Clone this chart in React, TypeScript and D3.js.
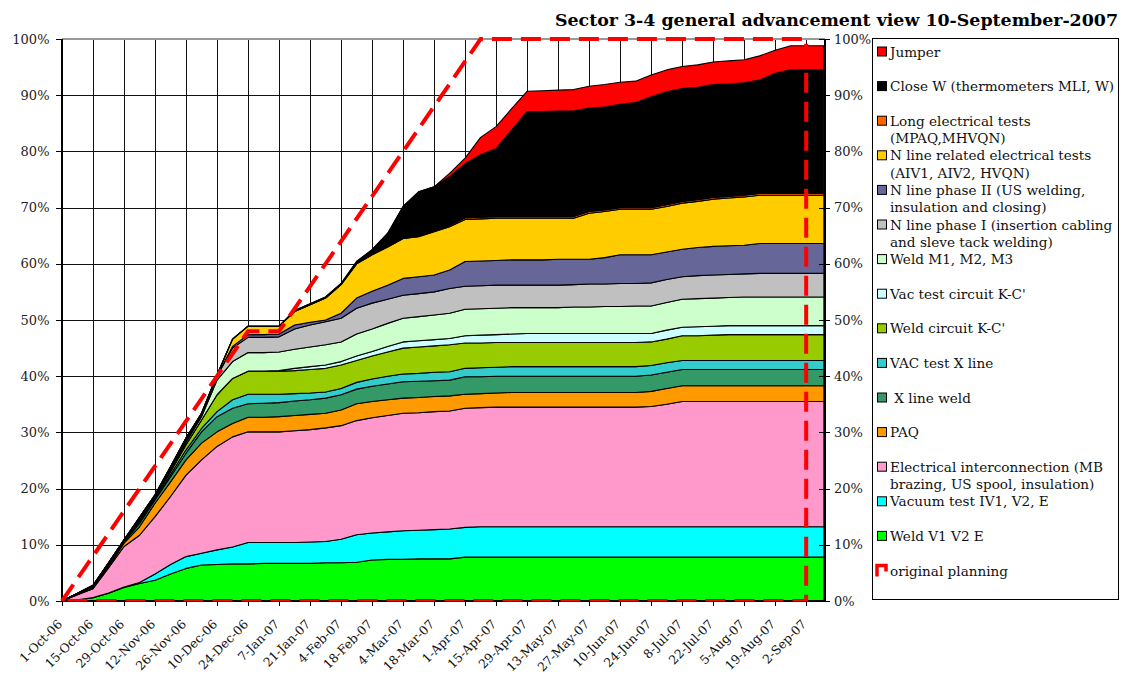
import React from "react";
import * as d3 from "d3";

// Weekly reporting dates (last point = report date)
const dates = [
  "2006-10-01","2006-10-08","2006-10-15","2006-10-22","2006-10-29","2006-11-05","2006-11-12","2006-11-19","2006-11-26","2006-12-03",
  "2006-12-10","2006-12-17","2006-12-24","2006-12-31","2007-01-07","2007-01-14","2007-01-21","2007-01-28","2007-02-04","2007-02-11",
  "2007-02-18","2007-02-25","2007-03-04","2007-03-11","2007-03-18","2007-03-25","2007-04-01","2007-04-08","2007-04-15","2007-04-22",
  "2007-04-29","2007-05-06","2007-05-13","2007-05-20","2007-05-27","2007-06-03","2007-06-10","2007-06-17","2007-06-24","2007-07-01",
  "2007-07-08","2007-07-15","2007-07-22","2007-07-29","2007-08-05","2007-08-12","2007-08-19","2007-08-26","2007-09-02","2007-09-10",
];

// Series values (% of total work), bottom to top of the stack
const weldV1V2E = [0,0.2,0.6,1.4,2.4,3.1,3.7,4.8,5.8,6.4, 6.5,6.6,6.6,6.7,6.7,6.7,6.7,6.8,6.8,6.9, 7.3,7.4,7.4,7.5,7.5,7.5,7.8,7.8,7.8,7.8, 7.8,7.8,7.8,7.8,7.8,7.8,7.8,7.8,7.8,7.8, 7.8,7.8,7.8,7.8,7.8,7.8,7.8,7.8,7.8,7.8];
const vacuumTest = [0,0,0,0,0.1,0.2,1.1,1.7,2.1,2.1, 2.6,3.0,3.8,3.7,3.7,3.7,3.8,3.8,4.2,4.9, 4.8,4.9,5.1,5.1,5.2,5.3,5.3,5.4,5.4,5.4, 5.4,5.4,5.4,5.4,5.4,5.4,5.4,5.4,5.4,5.4, 5.4,5.4,5.4,5.4,5.4,5.4,5.4,5.4,5.4,5.4];
const electricalInterconnection = [0,0.9,1.6,4.5,7.2,8.4,10.2,12.1,14.5,16.6, 18.4,19.6,19.7,19.7,19.7,19.9,20.0,20.2,20.2,20.3, 20.5,20.7,20.9,20.9,21.0,21.0,21.2,21.2,21.3,21.3, 21.3,21.3,21.3,21.3,21.3,21.3,21.3,21.3,21.4,21.8, 22.3,22.3,22.3,22.3,22.3,22.3,22.3,22.3,22.3,22.3];
const paq = [0,0.05,0.1,0.2,0.6,1.5,2.4,2.6,2.7,3.0, 2.6,2.4,2.6,2.6,2.7,2.7,2.7,2.6,2.8,3.0, 2.9,2.8,2.7,2.7,2.7,2.7,2.5,2.5,2.5,2.6, 2.6,2.6,2.6,2.6,2.6,2.6,2.6,2.6,2.7,2.8, 2.8,2.8,2.8,2.8,2.8,2.8,2.8,2.8,2.8,2.8];
const xLineWeld = [0,0.05,0.1,0.2,0.2,0.6,0.6,0.9,1.2,2.0, 2.7,2.7,2.4,2.5,2.5,2.6,2.6,2.7,2.7,2.6, 2.7,2.8,2.9,2.9,2.8,2.8,3.1,3.0,3.0,2.9, 2.9,2.9,2.9,2.9,2.9,2.9,2.9,2.9,2.9,2.9, 2.9,2.9,2.9,2.9,2.9,2.9,2.9,2.9,2.9,2.9];
const vacTestXLine = [0,0.02,0.05,0.1,0.1,0.2,0.2,0.4,0.6,0.6, 0.9,1.5,1.7,1.6,1.5,1.3,1.2,1.1,1.1,1.2, 1.3,1.4,1.4,1.4,1.5,1.5,1.5,1.6,1.6,1.7, 1.7,1.7,1.7,1.7,1.7,1.7,1.7,1.7,1.7,1.7, 1.6,1.6,1.6,1.6,1.6,1.6,1.6,1.6,1.6,1.6];
const weldCircuitKC = [0,0.05,0.1,0.1,0.1,0.3,0.3,0.5,0.9,1.5, 3.0,3.8,4.1,4.1,4.1,4.1,4.2,4.2,4.2,3.9, 4.1,4.3,4.6,4.7,4.7,4.8,4.5,4.4,4.4,4.3, 4.3,4.3,4.3,4.3,4.3,4.3,4.3,4.3,4.2,4.2, 4.4,4.4,4.5,4.6,4.6,4.6,4.6,4.6,4.6,4.6];
const vacTestCircuitKC = [0,0,0,0,0,0,0,0,0,0, 0,0,0,0,0.1,0.4,0.5,0.6,0.6,0.8, 0.8,1.0,1.1,1.1,1.1,1.1,1.3,1.4,1.4,1.5, 1.6,1.6,1.6,1.6,1.6,1.6,1.6,1.6,1.5,1.6, 1.5,1.6,1.6,1.6,1.6,1.6,1.6,1.6,1.6,1.6];
const weldM1M2M3 = [0,0.03,0.05,0.1,0.1,0.2,0.1,0.3,0.4,0.6, 2.6,3.0,3.3,3.3,3.3,3.4,3.5,3.6,3.5,3.9, 4.0,4.1,4.2,4.3,4.4,4.5,4.7,4.7,4.7,4.7, 4.6,4.6,4.6,4.7,4.7,4.8,4.8,4.9,4.9,4.9, 5.0,5.0,5.0,5.0,5.1,5.1,5.1,5.1,5.1,5.1];
const nLinePhaseI = [0,0.05,0.1,0.1,0.05,0.2,0.2,0.3,0.4,0.3, 0.7,2.4,2.7,2.7,2.7,3.6,3.9,4.1,4.2,4.6, 4.6,4.3,4.1,4.1,4.1,4.4,4.1,4.1,4.1,4.0, 4.0,4.0,4.0,4.0,4.1,4.0,4.1,4.0,4.1,4.1, 4.0,4.1,4.1,4.1,4.1,4.2,4.2,4.2,4.2,4.2];
const nLinePhaseII = [0,0,0,0,0,0,0,0,0.1,0.1, 0.1,0.3,0.5,0.5,0.5,0.7,0.5,0.3,0.9,1.8, 2.1,2.5,3.0,3.0,3.0,3.3,4.4,4.4,4.4,4.5, 4.5,4.5,4.6,4.5,4.4,4.7,5.1,5.1,5.0,4.9, 4.9,5.0,5.1,5.1,5.1,5.3,5.3,5.3,5.3,5.3];
const nLineElecTests = [0,0.05,0.1,0.1,0.05,0.2,0.1,0.3,0.3,0.2, 0.1,1.3,1.5,1.5,1.4,2.4,3.1,3.9,5.1,6.1, 6.5,6.8,7.1,7.1,7.7,7.7,7.5,7.5,7.5,7.4, 7.4,7.4,7.3,7.3,8.2,8.2,8.1,8.1,8.1,8.1, 8.2,8.2,8.4,8.5,8.6,8.6,8.6,8.6,8.6,8.6];
const longElecTests = [0,0,0,0,0,0,0,0,0,0, 0,0,0,0,0,0,0,0,0,0, 0,0,0,0.1,0.2,0.2,0.3,0.3,0.3,0.3, 0.3,0.3,0.3,0.3,0.3,0.3,0.3,0.3,0.3,0.3, 0.3,0.3,0.3,0.3,0.3,0.3,0.3,0.3,0.3,0.3];
const closeW = [0,0,0,0,0,0,0,0,0,0, 0,0,0,0,0,0.2,0.2,0.2,0.2,0.4, 0.9,2.4,5.7,7.9,7.8,8.7,9.6,11.1,12.1,15.4, 18.7,18.7,18.8,18.8,18.4,18.3,18.4,18.7,19.7,20.1, 20.1,20.0,20.1,20.0,20.0,20.2,21.4,22.0,22.0,22.0];
const jumper = [0,0,0,0,0,0,0,0,0,0, 0,0,0,0,0,0,0,0,0,0, 0,0,0,0,0,0.6,1.0,3.1,3.9,3.8, 3.6,3.7,3.7,3.8,3.9,4.0,3.9,3.8,3.9,3.9, 3.9,4.0,4.0,4.1,4.1,4.3,4.1,4.3,4.3,4.3];

// Original planning (dashed red)
const planningDates = ["1-Oct-06", "24-Dec-06", "7-Jan-07", "8-Apr-07", "2-Sep-07", "2-Sep-07", "1-Oct-06"];
const planningValues = [0, 48, 48, 100, 100, 0, 0];

const tickLabels = [
  "1-Oct-06","15-Oct-06","29-Oct-06","12-Nov-06","26-Nov-06","10-Dec-06","24-Dec-06","7-Jan-07","21-Jan-07",
  "4-Feb-07","18-Feb-07","4-Mar-07","18-Mar-07","1-Apr-07","15-Apr-07","29-Apr-07","13-May-07","27-May-07",
  "10-Jun-07","24-Jun-07","8-Jul-07","22-Jul-07","5-Aug-07","19-Aug-07","2-Sep-07",
];
const yTicks = [0, 10, 20, 30, 40, 50, 60, 70, 80, 90, 100];

const seriesKeys = ["s1","s2","s3","s4","s5","s6","s7","s8","s9","s10","s11","s12","s13","s14","s15"];
const seriesData = [weldV1V2E, vacuumTest, electricalInterconnection, paq, xLineWeld, vacTestXLine, weldCircuitKC,
  vacTestCircuitKC, weldM1M2M3, nLinePhaseI, nLinePhaseII, nLineElecTests, longElecTests, closeW, jumper];
const seriesColors = ["#00FF00","#00FFFF","#FF99CC","#FF9900","#339966","#33CCCC","#99CC00",
  "#CCFFFF","#CCFFCC","#C0C0C0","#666699","#FFCC00","#FF6600","#000000","#FF0000"];

const legendItems: { lines: string[]; color?: string }[] = [
  { lines: ["Jumper"], color: "#FF0000" },
  { lines: ["Close W (thermometers MLI, W)"], color: "#000000" },
  { lines: ["Long electrical tests", "(MPAQ,MHVQN)"], color: "#FF6600" },
  { lines: ["N line related electrical tests", "(AIV1, AIV2, HVQN)"], color: "#FFCC00" },
  { lines: ["N line phase II (US welding,", "insulation and closing)"], color: "#666699" },
  { lines: ["N line phase I (insertion cabling", "and sleve tack welding)"], color: "#C0C0C0" },
  { lines: ["Weld M1, M2, M3"], color: "#CCFFCC" },
  { lines: ["Vac test circuit K-C'"], color: "#CCFFFF" },
  { lines: ["Weld circuit K-C'"], color: "#99CC00" },
  { lines: ["VAC test X line"], color: "#33CCCC" },
  { lines: ["\u00A0X line weld"], color: "#339966" },
  { lines: ["PAQ"], color: "#FF9900" },
  { lines: ["Electrical interconnection (MB", "brazing, US spool, insulation)"], color: "#FF99CC" },
  { lines: ["Vacuum test IV1, V2, E"], color: "#00FFFF" },
  { lines: ["Weld V1 V2 E"], color: "#00FF00" },
  { lines: ["original planning"] },
];

const FONT = "'DejaVu Serif', serif";

export default function App() {
  const W = 1124, H = 677;
  const L = 62, R = 825, T = 39, B = 601;
  const parseISO = d3.timeParse("%Y-%m-%d");
  const parseTick = d3.timeParse("%d-%b-%y");
  const x = d3.scaleTime().domain([new Date(2006, 9, 1), new Date(2007, 8, 10, 12)]).range([L, R]);
  const y = d3.scaleLinear().domain([0, 100]).range([B, T]);

  const rows = dates.map((d, i) => {
    const r: any = { date: parseISO(d) };
    seriesKeys.forEach((k, j) => { r[k] = seriesData[j][i]; });
    return r;
  });
  const stacked = d3.stack<any>().keys(seriesKeys)(rows);
  const area = d3.area<any>()
    .x((d) => x(d.data.date))
    .y0((d) => y(d[0]))
    .y1((d) => y(d[1]));

  const tickDates = tickLabels.map((t) => parseTick(t) as Date);
  const planPts = planningDates.map((d, i) => [x(parseTick(d) as Date), y(planningValues[i])] as [number, number]);
  const planPath = d3.line()(planPts) || "";

  const legX = 872, legY = 38, legW = 246, legH = 561;
  const legC0 = 51.5, legStep = 34.6;

  return (
    <svg width={W} height={H} style={{ position: "absolute", left: 0, top: 0, background: "#fff" }} fontFamily={FONT}>
      <defs>
        <clipPath id="plotclip">
          <rect x={0} y={0} width={W} height={B + 0.5} />
        </clipPath>
      </defs>
      <rect x={0} y={0} width={W} height={H} fill="#fff" />
      {/* Title */}
      <text x={1118} y={26} textAnchor="end" fontSize={17} fontWeight="bold" textLength={563} lengthAdjust="spacingAndGlyphs">
        Sector 3-4 general advancement view 10-September-2007
      </text>

      {/* Gridlines */}
      <g shapeRendering="crispEdges">
        {yTicks.filter((v) => v > 0 && v < 100).map((v) => (
          <line key={"h" + v} x1={L} x2={R} y1={Math.round(y(v)) + 0.5} y2={Math.round(y(v)) + 0.5} stroke="#111" strokeWidth={1} />
        ))}
        {tickDates.slice(1).map((d, i) => (
          <line key={"v" + i} x1={Math.round(x(d)) + 0.5} x2={Math.round(x(d)) + 0.5} y1={T} y2={B} stroke="#111" strokeWidth={1} />
        ))}
        <line x1={L} x2={R} y1={T} y2={T} stroke="#999" strokeWidth={2} />
      </g>

      {/* Stacked areas */}
      <g>
        {stacked.map((s, i) => (
          <path key={s.key} d={area(s) || ""} fill={seriesColors[i]} stroke="#000" strokeWidth={1.1} strokeLinejoin="round" />
        ))}
      </g>

      {/* Axes */}
      <g shapeRendering="crispEdges">
        <line x1={L} x2={L} y1={T} y2={B} stroke="#000" strokeWidth={1.5} />
        <line x1={R} x2={R} y1={T} y2={B} stroke="#000" strokeWidth={1.5} />
        <line x1={L} x2={R} y1={B} y2={B} stroke="#000" strokeWidth={1.5} />
        {yTicks.map((v) => (
          <g key={"yt" + v}>
            <line x1={L - 6} x2={L} y1={Math.round(y(v)) + 0.5} y2={Math.round(y(v)) + 0.5} stroke="#000" />
            <line x1={R - 6} x2={R + 5} y1={Math.round(y(v)) + 0.5} y2={Math.round(y(v)) + 0.5} stroke="#000" />
          </g>
        ))}
        {tickDates.map((d, i) => (
          <line key={"xt" + i} x1={Math.round(x(d)) + 0.5} x2={Math.round(x(d)) + 0.5} y1={B} y2={B + 5} stroke="#000" />
        ))}
      </g>

      {/* Planning line */}
      <path d={planPath} fill="none" stroke="#FF0000" strokeWidth={4} strokeDasharray="20,9" clipPath="url(#plotclip)" />

      {/* Y labels */}
      {yTicks.map((v) => (
        <g key={"yl" + v} fontSize={13} fill="#222">
          <text x={49.5} y={y(v) + 4.5} textAnchor="end">{v + "%"}</text>
          <text x={834} y={y(v) + 4.5} textAnchor="start">{v + "%"}</text>
        </g>
      ))}

      {/* X labels */}
      {tickDates.map((d, i) => (
        <text key={"xl" + i} fontSize={12.4} fill="#111" textAnchor="end"
          transform={`translate(${x(d) + 1},${625}) rotate(-45)`}>
          {tickLabels[i]}
        </text>
      ))}

      {/* Legend */}
      <rect x={legX + 0.5} y={legY + 0.5} width={legW} height={legH} fill="#fff" stroke="#000" strokeWidth={1} />
      {legendItems.map((it, i) => {
        const c = legC0 + legStep * i;
        return (
          <g key={"lg" + i}>
            {it.color ? (
              <rect x={877.5} y={c - 4.5} width={9} height={9} fill={it.color} stroke="#000" strokeWidth={1} />
            ) : (
              <path d={`M877,${c + 6} V${c - 5} H886 V${c + 1}`} fill="none" stroke="#FF0000" strokeWidth={3.5} />
            )}
            {it.lines.map((ln, j) => (
              <text key={j} x={890} y={c + 5 + j * 17.5} fontSize={13.6} fill="#111">{ln}</text>
            ))}
          </g>
        );
      })}
    </svg>
  );
}
